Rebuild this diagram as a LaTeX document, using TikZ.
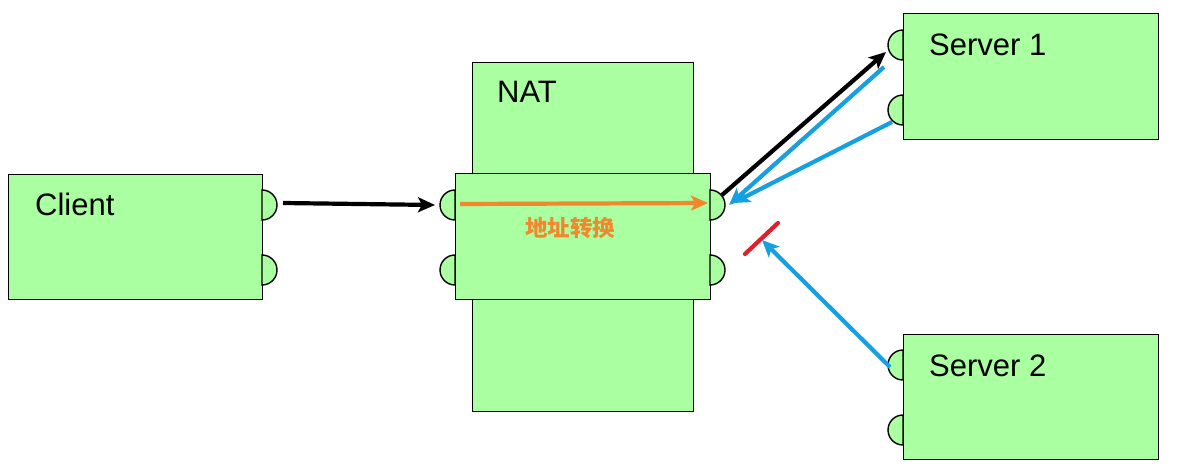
\documentclass[tikz,border=0pt]{standalone}
\usepackage{fontspec}
\setmainfont{Liberation Sans}
\newfontfamily\cjk{Noto Sans CJK SC}
\usetikzlibrary{arrows.meta}
\definecolor{boxgreen}{RGB}{170,255,160}
\definecolor{arrblue}{RGB}{20,160,225}
\definecolor{arrorange}{RGB}{242,135,45}
\definecolor{arrred}{RGB}{225,30,45}
\tikzset{
  box/.style={draw=black, line width=1.4pt, fill=boxgreen, anchor=south west, inner sep=0pt},
  port/.style={draw=black, line width=1.4pt, fill=boxgreen},
  lbl/.style={anchor=base west, inner sep=0pt, font=\fontsize{31}{36}\selectfont},
  conn/.style={line width=4.2pt, -{Stealth[length=17pt,width=15pt,inset=4pt]}},
  blk/.style={conn, draw=black},
  blu/.style={conn, draw=arrblue},
  org/.style={conn, draw=arrorange},
}
\newcommand{\rport}[2]{\draw[port] (#1,#2+15) arc (90:-90:15) -- cycle;}
\newcommand{\lport}[2]{\draw[port] (#1,#2+15) arc (90:270:15) -- cycle;}
\begin{document}
\begin{tikzpicture}[x=1pt,y=1pt]
\useasboundingbox (0,0) rectangle (1179,475);
% client
\node[box, minimum width=254pt, minimum height=125pt] (client) at (8,175) {};
\rport{262}{270}\rport{262}{205}
\node[lbl] (clientl) at (35,260) {Client};
% NAT
\node[box, minimum width=221pt, minimum height=349pt] (nat) at (472,63) {};
\node[box, minimum width=255pt, minimum height=126pt] (natmid) at (455,175) {};
\lport{455}{270}\lport{455}{205}
\rport{710}{270}\rport{710}{205}
\node[lbl] (natl) at (497,372) {NAT};
% servers
\node[box, minimum width=255pt, minimum height=126pt] (s1) at (903,335) {};
\lport{903}{430}\lport{903}{365}
\node[lbl] (s1l) at (929,419) {Server 1};
\node[box, minimum width=255pt, minimum height=125pt] (s2) at (903,15) {};
\lport{903}{110}\lport{903}{45}
\node[lbl] (s2l) at (929,99) {Server 2};
% connector endpoints
\coordinate (c1) at (283,272);
\coordinate (n1) at (435,270);
\coordinate (o1) at (460,271);
\coordinate (o2) at (708,272);
\coordinate (n2) at (722,280);
\coordinate (sp1) at (886,423);
\coordinate (b1s) at (884,408);
\coordinate (b1e) at (729,270);
\coordinate (b2s) at (892,353);
\coordinate (b2e) at (733,272);
\coordinate (r1) at (745,221);
\coordinate (r2) at (778,252);
\coordinate (b3s) at (890,108);
\coordinate (b3e) at (762,235);
\draw[blk] (c1) -- (n1);
\draw[org] (o1) -- (o2);
\node[text=arrorange, font=\cjk\bfseries\fontsize{22.5}{26}\selectfont] (xlat) at (570,247) {地址转换};
\draw[blk] (n2) -- (sp1);
\draw[blu] (b1s) -- (b1e);
\draw[blu] (b2s) -- (b2e);
\draw[arrred, line width=4.2pt, line cap=round] (r1) -- (r2);
\draw[blu] (b3s) -- (b3e);
\end{tikzpicture}
\end{document}
